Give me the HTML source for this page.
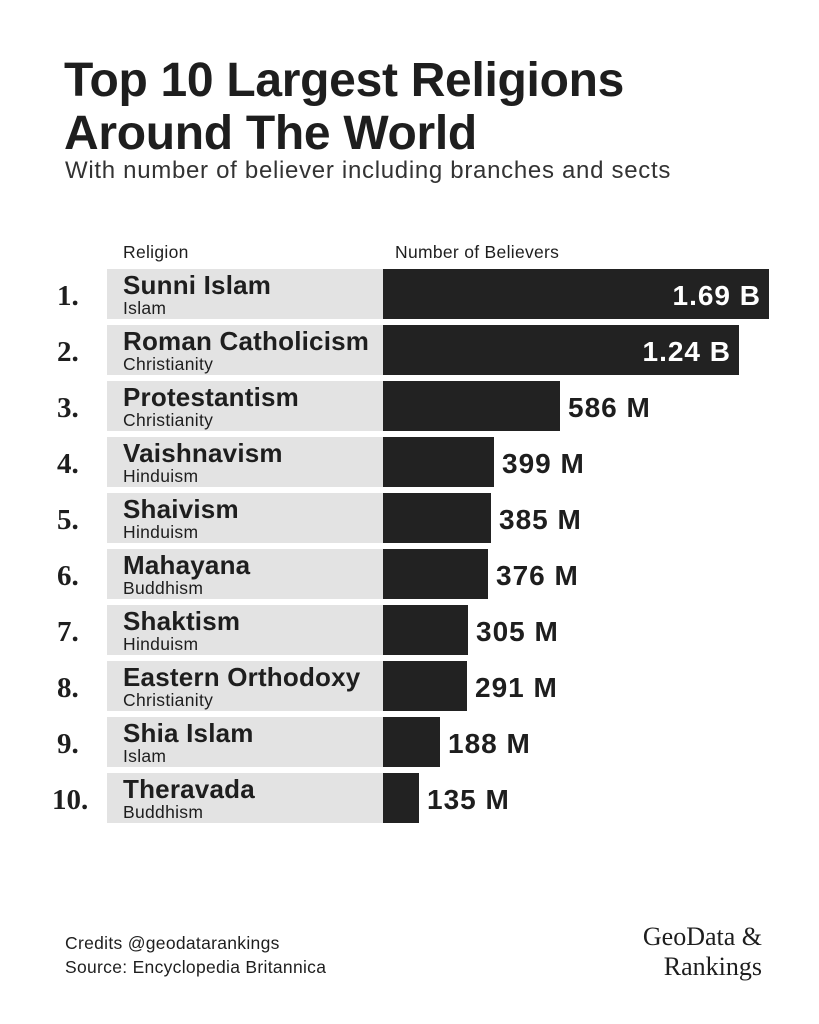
<!DOCTYPE html>
<html><head><meta charset="utf-8"><style>
body{margin:0;width:819px;height:1024px;background:#fff;position:relative;font-family:"Liberation Sans",sans-serif;color:#1e1e1e;overflow:hidden}
.a{position:absolute;white-space:nowrap}
.t{left:64px;font-size:48px;font-weight:bold;letter-spacing:-0.3px;line-height:1}
.g{position:absolute;left:107px;width:276px;height:50px;background:#e3e3e3}
.b{position:absolute;left:383px;height:50px;background:#222}
.n{position:absolute;left:123px;font-size:26px;font-weight:bold;line-height:1;letter-spacing:0.2px}
.s{position:absolute;left:123px;font-size:17.5px;line-height:1;letter-spacing:0.3px}
.r{position:absolute;font-family:"Liberation Serif",serif;font-weight:bold;font-size:29px;line-height:1}
.v{position:absolute;font-size:28px;font-weight:bold;line-height:1;letter-spacing:1px}
</style></head><body>
<div class="a t" style="top:57px">Top 10 Largest Religions</div>
<div class="a t" style="top:110px">Around The World</div>
<div class="a" style="left:65px;top:157px;font-size:24px;letter-spacing:0.7px;color:#333">With number of believer including branches and sects</div>
<div class="a" style="left:123px;top:242px;font-size:17.5px;letter-spacing:0.3px">Religion</div>
<div class="a" style="left:395px;top:242px;font-size:17.5px;letter-spacing:0.3px">Number of Believers</div>
<div id="rows"></div>
<script>
var d=[["Sunni Islam","Islam",769,"1.69 B"],["Roman Catholicism","Christianity",739,"1.24 B"],["Protestantism","Christianity",560,"586 M"],["Vaishnavism","Hinduism",494,"399 M"],["Shaivism","Hinduism",491,"385 M"],["Mahayana","Buddhism",488,"376 M"],["Shaktism","Hinduism",468,"305 M"],["Eastern Orthodoxy","Christianity",467,"291 M"],["Shia Islam","Islam",440,"188 M"],["Theravada","Buddhism",419,"135 M"]];
var h="";
d.forEach(function(r,i){var y=269+i*56;
h+='<div class="g" style="top:'+y+'px"></div><div class="b" style="top:'+y+'px;width:'+(r[2]-383)+'px"></div>';
h+='<div class="n" style="top:'+(y+3)+'px">'+r[0]+'</div><div class="s" style="top:'+(y+31)+'px">'+r[1]+'</div>';
h+='<div class="r" style="top:'+(y+13)+'px;'+(i==9?'left:52px':'left:57px')+'">'+(i+1)+'.</div>';
if(i<2)h+='<div class="v" style="top:'+(y+13)+'px;right:'+(819-r[2]+8)+'px;color:#fff">'+r[3]+'</div>';
else h+='<div class="v" style="top:'+(y+13)+'px;left:'+(r[2]+8)+'px">'+r[3]+'</div>';});
document.getElementById("rows").innerHTML=h;
</script>
<div class="a" style="left:65px;top:933px;font-size:17.5px;letter-spacing:0.3px">Credits @geodatarankings</div>
<div class="a" style="left:65px;top:957px;font-size:17.5px;letter-spacing:0.3px">Source: Encyclopedia Britannica</div>
<div class="a" style="right:57px;top:922px;font-family:'Liberation Serif',serif;font-size:26px;text-align:right;line-height:30px">GeoData &amp;<br>Rankings</div>
</body></html>
